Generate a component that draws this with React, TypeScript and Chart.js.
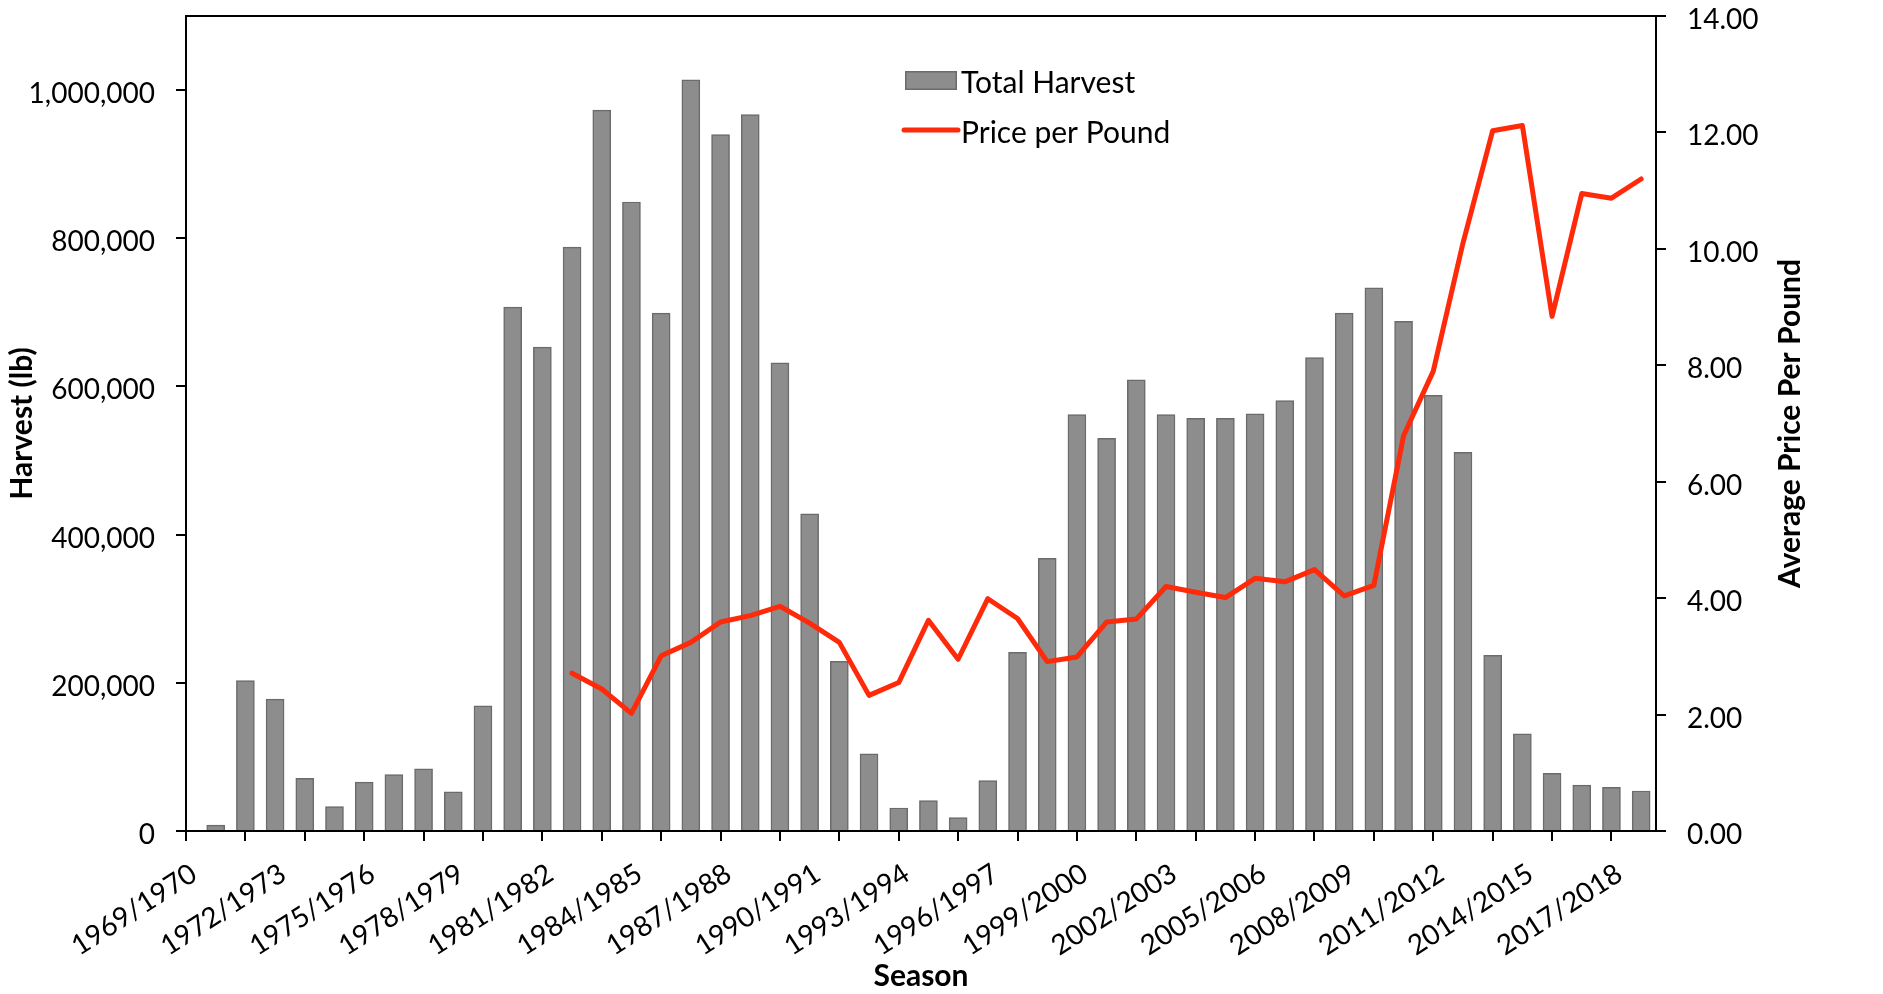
import React, { useEffect, useRef } from 'react';
import { Chart, registerables } from 'chart.js';

Chart.register(...registerables);

// ---------- data ----------
const seasons: string[] = [
  '1969/1970', '1970/1971', '1971/1972', '1972/1973', '1973/1974', '1974/1975', '1975/1976', '1976/1977',
  '1977/1978', '1978/1979', '1979/1980', '1980/1981', '1981/1982', '1982/1983', '1983/1984', '1984/1985',
  '1985/1986', '1986/1987', '1987/1988', '1988/1989', '1989/1990', '1990/1991', '1991/1992', '1992/1993',
  '1993/1994', '1994/1995', '1995/1996', '1996/1997', '1997/1998', '1998/1999', '1999/2000', '2000/2001',
  '2001/2002', '2002/2003', '2003/2004', '2004/2005', '2005/2006', '2006/2007', '2007/2008', '2008/2009',
  '2009/2010', '2010/2011', '2011/2012', '2012/2013', '2013/2014', '2014/2015', '2015/2016', '2016/2017',
  '2017/2018', '2018/2019',
];

const harvestLb: (number | null)[] = [
  null, 8000, 203000, 178000, 71000, 33000, 66000, 76000, 84000, 53000,
  169000, 707000, 653000, 788000, 973000, 849000, 699000, 1014000, 940000, 967000,
  632000, 428000, 229000, 104000, 31000, 41000, 18000, 68000, 241000, 368000,
  562000, 530000, 609000, 562000, 557000, 557000, 563000, 581000, 639000, 699000,
  733000, 688000, 588000, 511000, 237000, 131000, 78000, 62000, 59000, 54000,
];

const pricePerLb: (number | null)[] = [
  null, null, null, null, null, null, null, null, null, null,
  null, null, null, 2.71, 2.44, 2.02, 3.01, 3.24, 3.59, 3.70,
  3.86, 3.57, 3.24, 2.33, 2.55, 3.62, 2.95, 3.99, 3.65, 2.91,
  2.99, 3.59, 3.64, 4.20, 4.10, 4.01, 4.34, 4.28, 4.49, 4.04,
  4.22, 6.79, 7.90, 10.10, 12.03, 12.12, 8.84, 10.95, 10.87, 11.20,
];

const harvestTicks: number[] = [0, 200000, 400000, 600000, 800000, 1000000];
const priceTicks: number[] = [0, 2, 4, 6, 8, 10, 12, 14];

const FONT = 'Lato, "Open Sans", sans-serif';

const overlayPlugin = {
  id: 'overlay',
  afterDraw(chart: any) {
    const { ctx, chartArea: ca } = chart;
    ctx.save();
    // top border of plot area
    ctx.strokeStyle = '#000';
    ctx.lineWidth = 2;
    ctx.beginPath();
    ctx.moveTo(ca.left - 1, ca.top);
    ctx.lineTo(ca.right + 1, ca.top);
    ctx.stroke();

    // axis titles
    ctx.fillStyle = '#000';
    ctx.font = `bold 30px ${FONT}`;
    ctx.textAlign = 'center';
    ctx.textBaseline = 'middle';
    const midY = (ca.top + ca.bottom) / 2;
    ctx.save();
    ctx.translate(ca.left - 164, midY);
    ctx.rotate(-Math.PI / 2);
    ctx.fillText('Harvest (lb)', 0, 0);
    ctx.restore();
    ctx.save();
    ctx.translate(ca.right + 134, midY);
    ctx.rotate(-Math.PI / 2);
    ctx.fillText('Average Price Per Pound', 0, 0);
    ctx.restore();
    ctx.fillText('Season', (ca.left + ca.right) / 2, ca.bottom + 145);

    // legend
    const ds = chart.data.datasets;
    const lx = ca.left + 719;
    ctx.font = `30px ${FONT}`;
    ctx.textAlign = 'left';
    // bar entry
    const bar = ds[0];
    ctx.fillStyle = bar.backgroundColor;
    ctx.fillRect(lx, ca.top + 55, 52, 19);
    ctx.strokeStyle = bar.borderColor;
    ctx.lineWidth = 1.5;
    ctx.strokeRect(lx + 0.75, ca.top + 55.75, 50.5, 17.5);
    ctx.fillStyle = '#000';
    ctx.fillText(bar.label, lx + 56, ca.top + 67);
    // line entry
    const line = ds[1];
    ctx.strokeStyle = line.borderColor;
    ctx.lineWidth = 5;
    ctx.lineCap = 'round';
    ctx.beginPath();
    ctx.moveTo(lx - 1, ca.top + 114);
    ctx.lineTo(lx + 53, ca.top + 114);
    ctx.stroke();
    ctx.fillStyle = '#000';
    ctx.fillText(line.label, lx + 56, ca.top + 117);
    ctx.restore();
  },
};

export default function App() {
  const canvasRef = useRef<HTMLCanvasElement | null>(null);

  useEffect(() => {
    if (!canvasRef.current) return;
    const tickFont = { family: FONT, size: 28 };
    const chart = new Chart(canvasRef.current, {
      type: 'bar',
      data: {
        datasets: [
          {
            type: 'bar',
            label: 'Total Harvest',
            data: harvestLb
              .map((v, i) => ({ x: i, y: v }))
              .filter((d) => d.y !== null) as any,
            backgroundColor: '#8d8d8d',
            borderColor: '#6b6b6b',
            borderWidth: 1.5,
            barThickness: 18,
            xAxisID: 'x',
            yAxisID: 'y',
            order: 2,
          },
          {
            type: 'line',
            label: 'Price per Pound',
            data: pricePerLb
              .map((v, i) => ({ x: i, y: v }))
              .filter((d) => d.y !== null) as any,
            borderColor: '#ff2a0a',
            backgroundColor: '#ff2a0a',
            borderWidth: 5,
            pointRadius: 0,
            tension: 0,
            borderJoinStyle: 'round',
            borderCapStyle: 'round',
            xAxisID: 'x',
            yAxisID: 'y1',
            order: 1,
          } as any,
        ],
      },
      options: {
        responsive: false,
        animation: false,
        layout: { padding: { top: 16, left: 0, right: 0, bottom: 0 } },
        plugins: {
          legend: { display: false },
          tooltip: { enabled: false },
        },
        scales: {
          x: {
            type: 'linear',
            min: 0,
            max: 49.5,
            offset: false,
            afterBuildTicks: (s: any) => {
              s.ticks = seasons.map((_, i) => ({ value: i }));
            },
            afterFit: (s: any) => {
              s.height = 163;
              s.paddingLeft = 0;
              s.paddingRight = 0;
            },
            grid: {
              offset: false,
              drawOnChartArea: false,
              drawTicks: true,
              tickLength: 10,
              lineWidth: 2,
              color: (c: any) =>
                c.tick && c.tick.value % 2 === 0 ? '#000' : 'rgba(0,0,0,0)',
            },
            border: { display: true, color: '#000', width: 2 },
            ticks: {
              autoSkip: false,
              minRotation: 33,
              maxRotation: 33,
              padding: 16,
              labelOffset: 8,
              color: '#000',
              font: tickFont,
              callback: (v: any) => (v % 3 === 0 ? seasons[v] : ''),
            },
          },
          y: {
            type: 'linear',
            position: 'left',
            min: 0,
            max: 1100000,
            afterBuildTicks: (s: any) => {
              s.ticks = harvestTicks.map((v) => ({ value: v }));
            },
            afterFit: (s: any) => {
              s.width = 186;
              s.paddingTop = 0;
              s.paddingBottom = 0;
            },
            grid: {
              drawOnChartArea: false,
              drawTicks: true,
              tickLength: 10,
              lineWidth: 2,
              color: '#000',
            },
            border: { display: true, color: '#000', width: 2 },
            ticks: {
              padding: 21,
              labelOffset: 4,
              color: '#000',
              font: tickFont,
              callback: (v: any) => Number(v).toLocaleString('en-US'),
            },
          },
          y1: {
            type: 'linear',
            position: 'right',
            min: 0,
            max: 14,
            afterBuildTicks: (s: any) => {
              s.ticks = priceTicks.map((v) => ({ value: v }));
            },
            afterFit: (s: any) => {
              s.width = 227;
              s.paddingTop = 0;
              s.paddingBottom = 0;
            },
            grid: {
              drawOnChartArea: false,
              drawTicks: true,
              tickLength: 10,
              lineWidth: 2,
              color: '#000',
            },
            border: { display: true, color: '#000', width: 2 },
            ticks: {
              padding: 21,
              labelOffset: 4,
              color: '#000',
              font: tickFont,
              callback: (v: any) => Number(v).toFixed(2),
            },
          },
        },
      } as any,
      plugins: [overlayPlugin],
    });
    return () => chart.destroy();
  }, []);

  return (
    <div style={{ position: 'absolute', left: 0, top: 0, width: 1883, height: 994 }}>
      <canvas ref={canvasRef} width={1883} height={994} style={{ display: 'block' }} />
    </div>
  );
}
